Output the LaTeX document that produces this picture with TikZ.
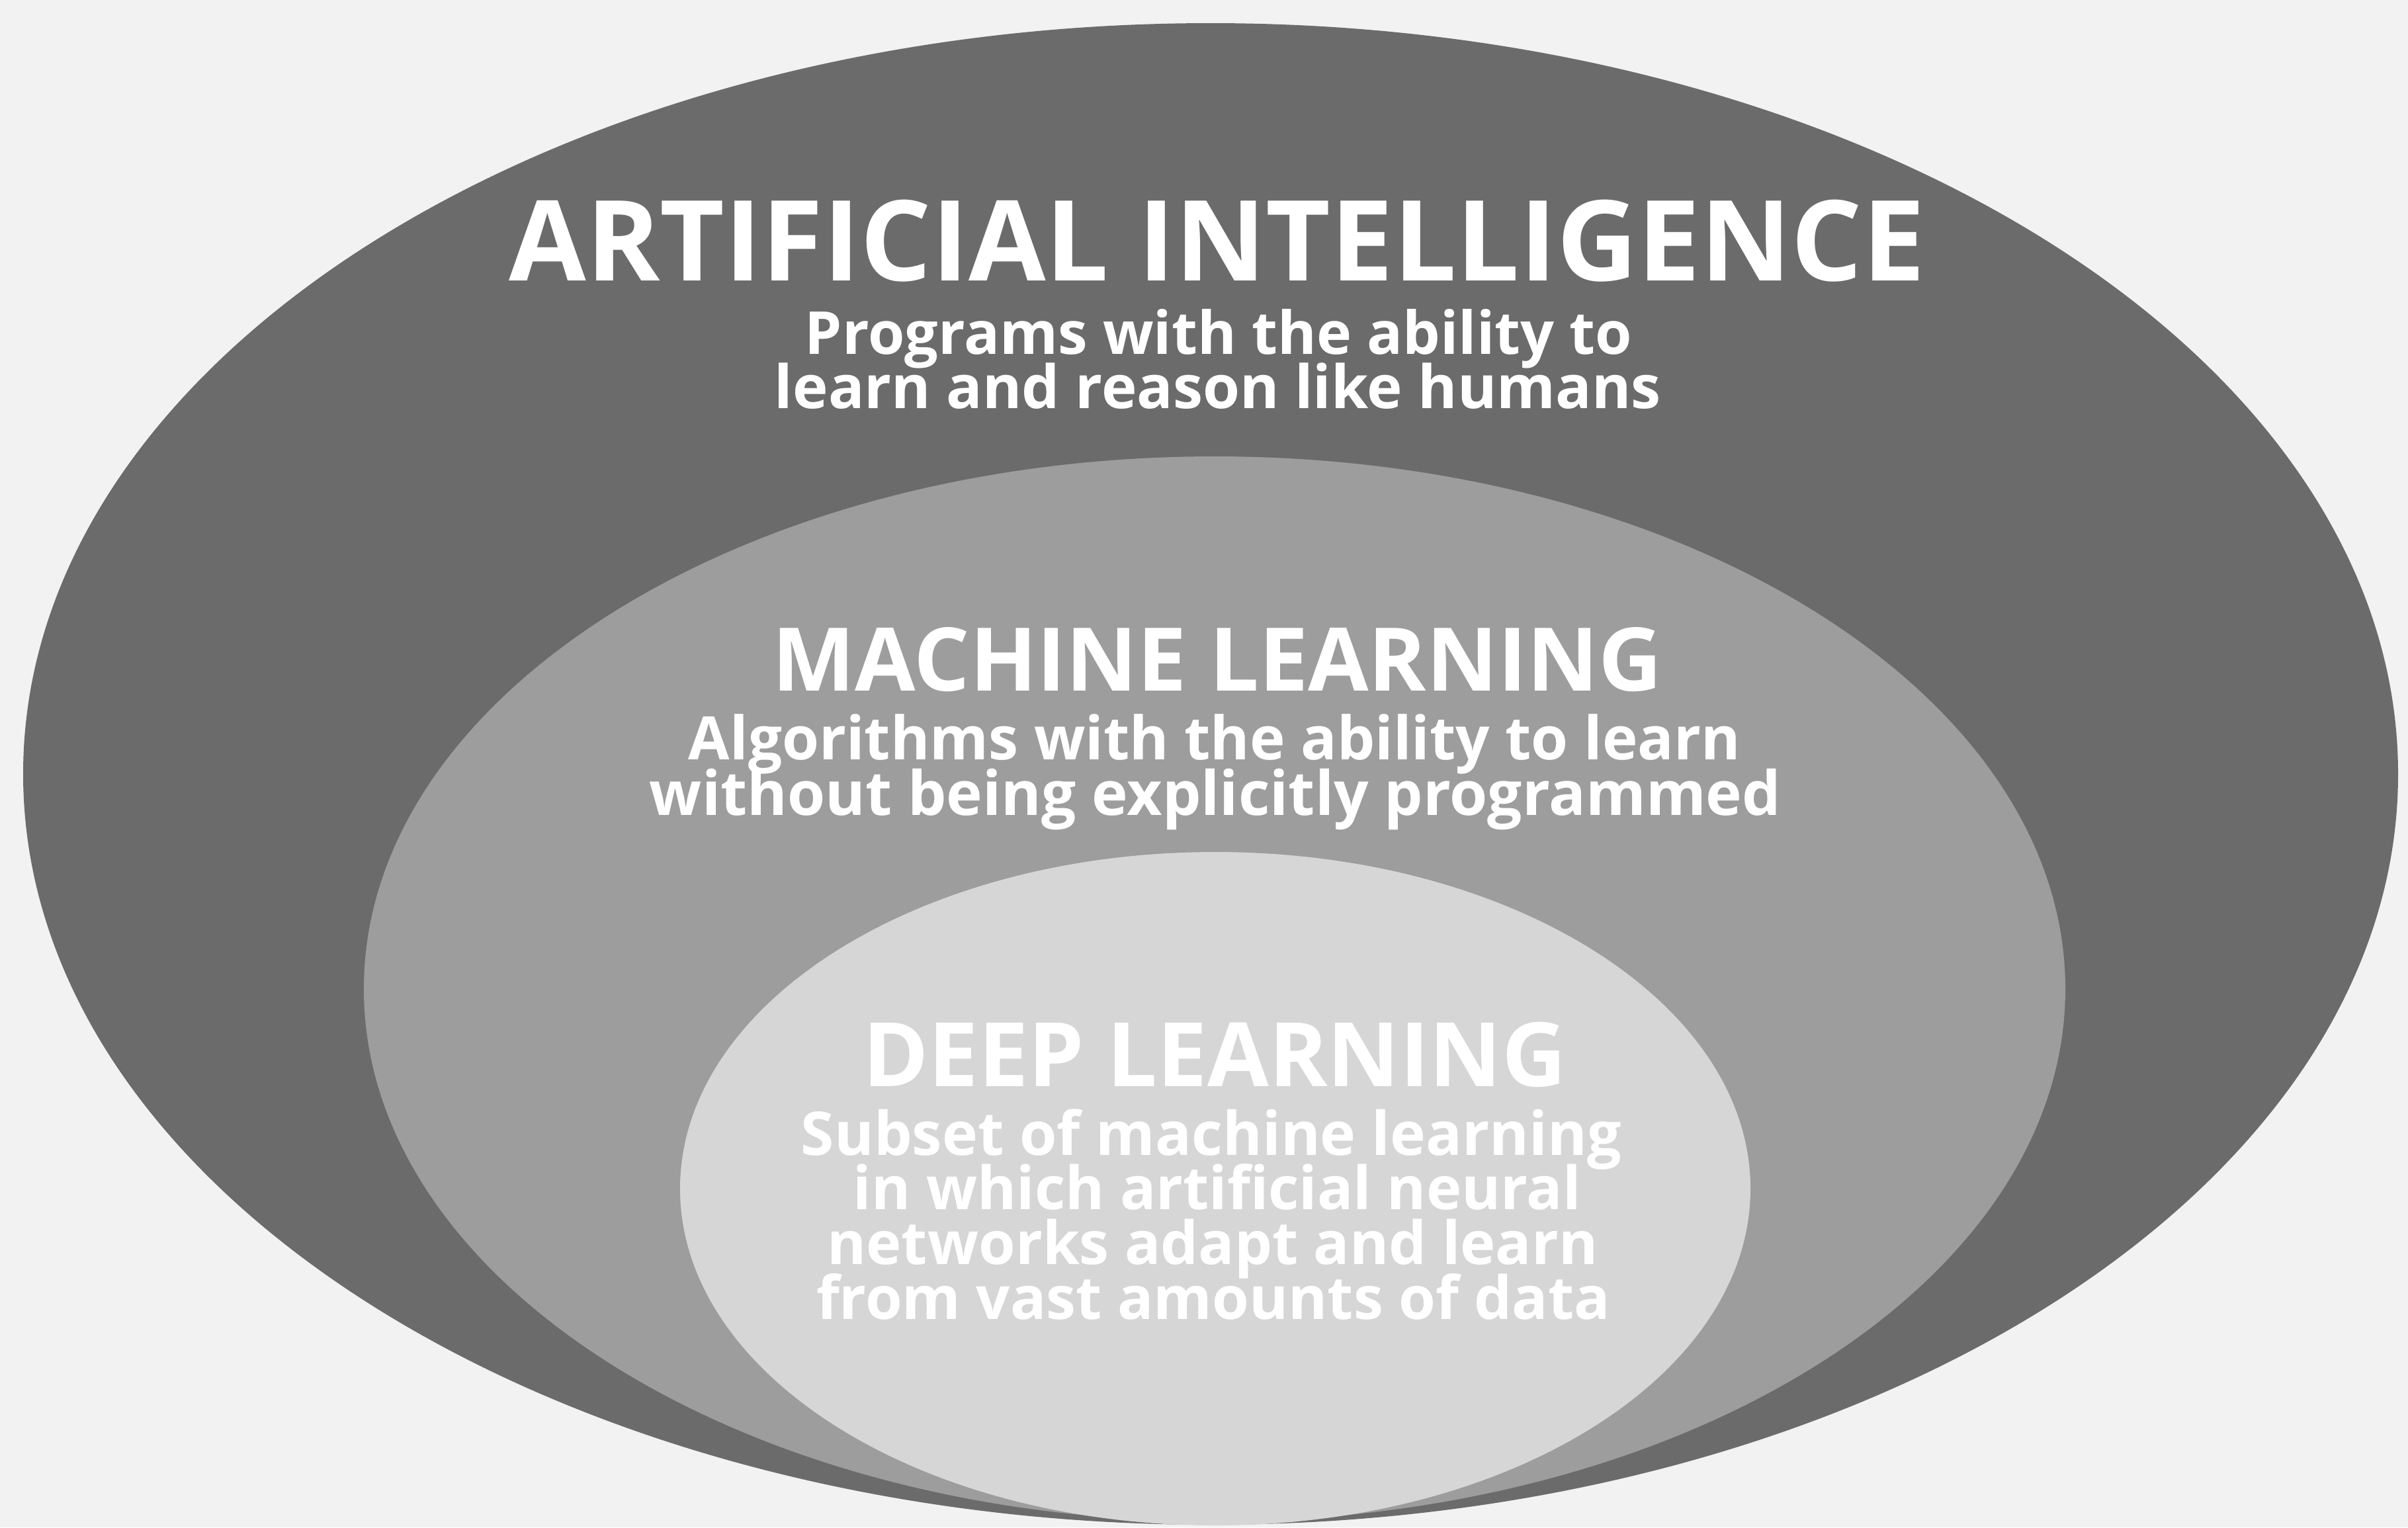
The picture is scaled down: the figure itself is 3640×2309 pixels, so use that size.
\documentclass[tikz,border=0pt]{standalone}
\usepackage{fontspec}
\setmainfont{Open Sans}
\definecolor{bgc}{HTML}{F2F2F2}
\definecolor{aic}{HTML}{6B6B6B}
\definecolor{mlc}{HTML}{9D9D9D}
\definecolor{dlc}{HTML}{D6D6D6}
\newcommand{\fitw}[2]{\resizebox{#1mm}{!}{\bfseries #2}}
\begin{document}
\begin{tikzpicture}[x=0.1mm,y=-0.1mm,
  txt/.style={text=white,inner sep=0pt,anchor=base}]
\fill[bgc] (0,0) rectangle (3640,2309);
\useasboundingbox (0,0) rectangle (3640,2309);
\fill[aic] (1830,1170) ellipse [x radius=1795, y radius=1135];
\fill[mlc] (1836,1495) ellipse [x radius=1286, y radius=805];
\fill[dlc] (1837,1797) ellipse [x radius=809, y radius=509];
% Artificial intelligence
\node[txt] (aititle) at (1840,424) {\fitw{214}{ARTIFICIAL INTELLIGENCE}};
\node[txt] (aisub1) at (1842,535) {\fitw{125}{Programs with the ability to}};
\node[txt] (aisub2) at (1841,617) {\fitw{134}{learn and reason like humans}};
% Machine learning
\node[txt] (mltitle) at (1840,1044) {\fitw{134.5}{MACHINE LEARNING}};
\node[txt] (mlsub1) at (1836,1148) {\fitw{159}{Algorithms with the ability to learn}};
\node[txt] (mlsub2) at (1837,1232) {\fitw{171}{without being explicitly programmed}};
% Deep learning
\node[txt] (dltitle) at (1836,1642) {\fitw{106.3}{DEEP LEARNING}};
\node[txt] (dlsub1) at (1831,1746) {\fitw{124}{Subset of machine learning}};
\node[txt] (dlsub2) at (1840,1828) {\fitw{110}{in which artificial neural}};
\node[txt] (dlsub3) at (1833,1911) {\fitw{116.5}{networks adapt and learn}};
\node[txt] (dlsub4) at (1834,1994) {\fitw{120}{from vast amounts of data}};
\end{tikzpicture}
\end{document}
